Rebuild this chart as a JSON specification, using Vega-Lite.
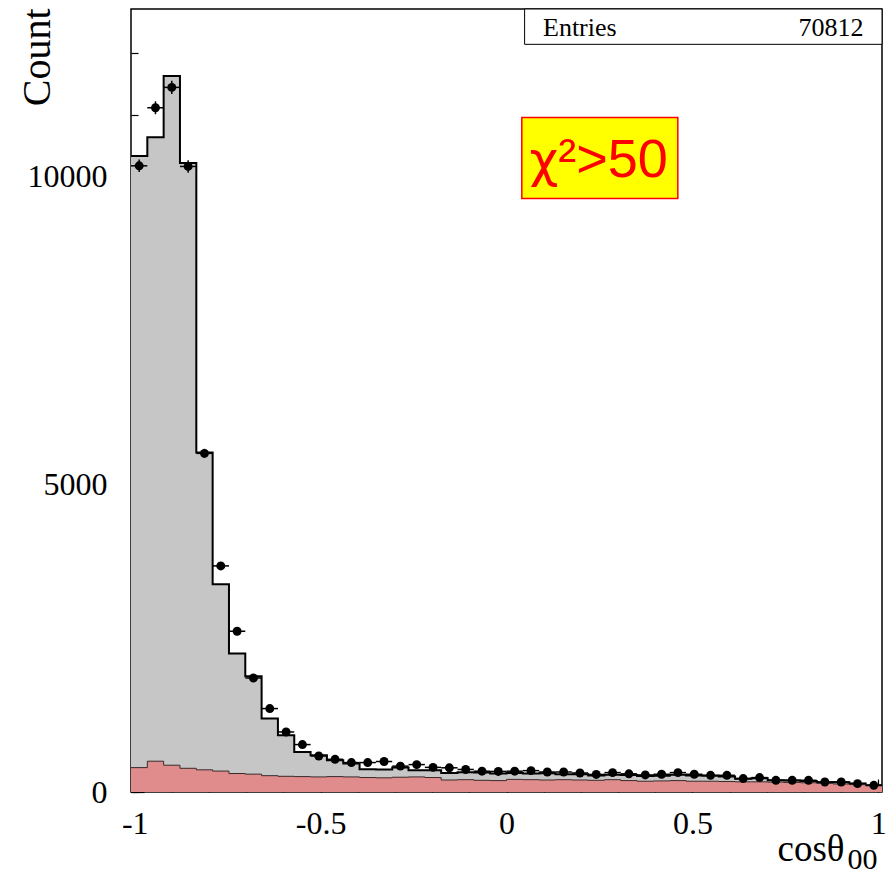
{
  "$schema": "https://vega.github.io/schema/vega-lite/v6.json",
  "width": 751,
  "height": 783,
  "autosize": {"type": "none"},
  "padding": {"left": 131, "top": 9, "right": 9, "bottom": 83},
  "background": "white",
  "config": {
    "view": {"stroke": "black", "strokeWidth": 1.5},
    "axis": {
      "grid": false,
      "domain": false,
      "zindex": 1,
      "labelFont": "Liberation Serif",
      "titleFont": "Liberation Serif",
      "labelColor": "black",
      "titleColor": "black",
      "tickColor": "black",
      "tickWidth": 1.2,
      "titleFontWeight": "normal",
      "labelFlush": false,
      "labelOverlap": false
    }
  },
  "data": {
    "values": [
      {"lo": -1.0100, "hi": -0.9661, "c": -0.9880, "n": 10170, "err": 101, "mc": 10330, "bkg": 396},
      {"lo": -0.9661, "hi": -0.9222, "c": -0.9442, "n": 11113, "err": 105, "mc": 10635, "bkg": 500},
      {"lo": -0.9222, "hi": -0.8783, "c": -0.9003, "n": 11444, "err": 107, "mc": 11630, "bkg": 435},
      {"lo": -0.8783, "hi": -0.8343, "c": -0.8563, "n": 10160, "err": 101, "mc": 10215, "bkg": 385},
      {"lo": -0.8343, "hi": -0.7904, "c": -0.8124, "n": 5500, "err": 74, "mc": 5515, "bkg": 360},
      {"lo": -0.7904, "hi": -0.7465, "c": -0.7685, "n": 3672, "err": 61, "mc": 3375, "bkg": 340},
      {"lo": -0.7465, "hi": -0.7026, "c": -0.7246, "n": 2611, "err": 51, "mc": 2249, "bkg": 300},
      {"lo": -0.7026, "hi": -0.6587, "c": -0.6807, "n": 1852, "err": 43, "mc": 1880, "bkg": 290},
      {"lo": -0.6587, "hi": -0.6148, "c": -0.6367, "n": 1355, "err": 37, "mc": 1193, "bkg": 265},
      {"lo": -0.6148, "hi": -0.5709, "c": -0.5928, "n": 975, "err": 31, "mc": 921, "bkg": 255},
      {"lo": -0.5709, "hi": -0.5270, "c": -0.5489, "n": 770, "err": 28, "mc": 650, "bkg": 250},
      {"lo": -0.5270, "hi": -0.4830, "c": -0.5050, "n": 585, "err": 24, "mc": 596, "bkg": 245},
      {"lo": -0.4830, "hi": -0.4391, "c": -0.4611, "n": 531, "err": 23, "mc": 515, "bkg": 250},
      {"lo": -0.4391, "hi": -0.3952, "c": -0.4172, "n": 478, "err": 22, "mc": 461, "bkg": 245},
      {"lo": -0.3952, "hi": -0.3513, "c": -0.3733, "n": 478, "err": 22, "mc": 370, "bkg": 235},
      {"lo": -0.3513, "hi": -0.3074, "c": -0.3293, "n": 495, "err": 22, "mc": 364, "bkg": 230},
      {"lo": -0.3074, "hi": -0.2635, "c": -0.2854, "n": 420, "err": 20, "mc": 396, "bkg": 240},
      {"lo": -0.2635, "hi": -0.2196, "c": -0.2415, "n": 445, "err": 21, "mc": 353, "bkg": 245},
      {"lo": -0.2196, "hi": -0.1757, "c": -0.1976, "n": 400, "err": 20, "mc": 353, "bkg": 235},
      {"lo": -0.1757, "hi": -0.1317, "c": -0.1537, "n": 393, "err": 20, "mc": 309, "bkg": 195},
      {"lo": -0.1317, "hi": -0.0878, "c": -0.1098, "n": 366, "err": 19, "mc": 320, "bkg": 200},
      {"lo": -0.0878, "hi": -0.0439, "c": -0.0659, "n": 338, "err": 18, "mc": 315, "bkg": 190},
      {"lo": -0.0439, "hi": 0.0000, "c": -0.0220, "n": 334, "err": 18, "mc": 300, "bkg": 185},
      {"lo": 0.0000, "hi": 0.0439, "c": 0.0220, "n": 338, "err": 18, "mc": 310, "bkg": 205},
      {"lo": 0.0439, "hi": 0.0878, "c": 0.0659, "n": 347, "err": 19, "mc": 300, "bkg": 200},
      {"lo": 0.0878, "hi": 0.1317, "c": 0.1098, "n": 325, "err": 18, "mc": 305, "bkg": 195},
      {"lo": 0.1317, "hi": 0.1757, "c": 0.1537, "n": 325, "err": 18, "mc": 290, "bkg": 200},
      {"lo": 0.1757, "hi": 0.2196, "c": 0.1976, "n": 309, "err": 18, "mc": 290, "bkg": 195},
      {"lo": 0.2196, "hi": 0.2635, "c": 0.2415, "n": 285, "err": 17, "mc": 270, "bkg": 190},
      {"lo": 0.2635, "hi": 0.3074, "c": 0.2854, "n": 315, "err": 18, "mc": 280, "bkg": 200},
      {"lo": 0.3074, "hi": 0.3513, "c": 0.3293, "n": 295, "err": 17, "mc": 275, "bkg": 185},
      {"lo": 0.3513, "hi": 0.3952, "c": 0.3733, "n": 277, "err": 17, "mc": 260, "bkg": 175},
      {"lo": 0.3952, "hi": 0.4391, "c": 0.4172, "n": 288, "err": 17, "mc": 265, "bkg": 180},
      {"lo": 0.4391, "hi": 0.4830, "c": 0.4611, "n": 315, "err": 18, "mc": 280, "bkg": 185},
      {"lo": 0.4830, "hi": 0.5270, "c": 0.5050, "n": 288, "err": 17, "mc": 270, "bkg": 175},
      {"lo": 0.5270, "hi": 0.5709, "c": 0.5489, "n": 271, "err": 16, "mc": 265, "bkg": 175},
      {"lo": 0.5709, "hi": 0.6148, "c": 0.5928, "n": 271, "err": 16, "mc": 250, "bkg": 170},
      {"lo": 0.6148, "hi": 0.6587, "c": 0.6367, "n": 218, "err": 15, "mc": 215, "bkg": 165},
      {"lo": 0.6587, "hi": 0.7026, "c": 0.6807, "n": 234, "err": 15, "mc": 225, "bkg": 165},
      {"lo": 0.7026, "hi": 0.7465, "c": 0.7246, "n": 190, "err": 14, "mc": 190, "bkg": 160},
      {"lo": 0.7465, "hi": 0.7904, "c": 0.7685, "n": 190, "err": 14, "mc": 185, "bkg": 155},
      {"lo": 0.7904, "hi": 0.8343, "c": 0.8124, "n": 190, "err": 14, "mc": 180, "bkg": 150},
      {"lo": 0.8343, "hi": 0.8783, "c": 0.8563, "n": 162, "err": 13, "mc": 160, "bkg": 140},
      {"lo": 0.8783, "hi": 0.9222, "c": 0.9003, "n": 162, "err": 13, "mc": 160, "bkg": 130},
      {"lo": 0.9222, "hi": 0.9661, "c": 0.9442, "n": 136, "err": 12, "mc": 140, "bkg": 120},
      {"lo": 0.9661, "hi": 1.0100, "c": 0.9880, "n": 109, "err": 10, "mc": 110, "bkg": 100},
      {"lo": 1.0100, "mc": 110, "bkg": 100}
    ]
  },
  "resolve": {"axis": {"x": "independent", "y": "independent"}},
  "layer": [
    {
      "mark": {"type": "area", "interpolate": "step-after", "fill": "#c6c6c6"},
      "encoding": {
        "x": {
          "field": "lo", "type": "quantitative",
          "scale": {"domain": [-1.01, 1.01], "nice": false, "zero": false},
          "axis": {
            "orient": "bottom",
            "values": [-1, -0.9, -0.8, -0.7, -0.6, -0.5, -0.4, -0.3, -0.2, -0.1, 0, 0.1, 0.2, 0.3, 0.4, 0.5, 0.6, 0.7, 0.8, 0.9, 1],
            "tickSize": -7, "labels": false,
            "title": "cosθ", "titleFontSize": 37,
            "titleX": 713, "titleY": 68, "titleAlign": "right", "titleBaseline": "alphabetic"
          }
        },
        "y": {
          "field": "mc", "type": "quantitative",
          "scale": {"domain": [0, 12717], "nice": false},
          "axis": {
            "orient": "left",
            "values": [0, 1000, 2000, 3000, 4000, 5000, 6000, 7000, 8000, 9000, 10000, 11000, 12000],
            "tickSize": -7, "labels": false,
            "title": "Count", "titleFontSize": 40, "titleAngle": -90,
            "titleX": -82, "titleY": -1, "titleAlign": "right", "titleBaseline": "alphabetic"
          }
        }
      }
    },
    {
      "mark": {"type": "line", "interpolate": "step-after", "stroke": "black", "strokeWidth": 2},
      "encoding": {
        "x": {"field": "lo", "type": "quantitative", "axis": null},
        "y": {"field": "mc", "type": "quantitative", "axis": null}
      }
    },
    {
      "mark": {"type": "area", "interpolate": "step-after", "fill": "#e08c8c"},
      "encoding": {
        "x": {
          "field": "lo", "type": "quantitative",
          "axis": {
            "orient": "bottom", "values": [-1, -0.5, 0, 0.5, 1],
            "tickSize": -13, "labels": false,
            "title": "00", "titleFontSize": 30,
            "titleX": 716, "titleY": 76, "titleAlign": "left", "titleBaseline": "alphabetic"
          }
        },
        "y": {
          "field": "bkg", "type": "quantitative",
          "axis": {"orient": "left", "values": [0, 5000, 10000], "tickSize": -13, "labels": false, "title": null}
        }
      }
    },
    {
      "mark": {"type": "line", "interpolate": "step-after", "stroke": "#3a2a2a", "strokeWidth": 1},
      "encoding": {
        "x": {"field": "lo", "type": "quantitative", "axis": null},
        "y": {"field": "bkg", "type": "quantitative", "axis": null}
      }
    },
    {
      "transform": [{"filter": "isValid(datum.n)"}],
      "mark": {"type": "rule", "stroke": "black", "strokeWidth": 1.5},
      "encoding": {
        "x": {"field": "lo", "type": "quantitative", "axis": null},
        "x2": {"field": "hi"},
        "y": {"field": "n", "type": "quantitative", "axis": null}
      }
    },
    {
      "transform": [{"filter": "isValid(datum.n)"}],
      "mark": {"type": "errorbar", "rule": {"stroke": "black", "strokeWidth": 1.5}},
      "encoding": {
        "x": {"field": "c", "type": "quantitative", "axis": null},
        "y": {"field": "n", "type": "quantitative", "axis": null},
        "yError": {"field": "err"}
      }
    },
    {
      "transform": [{"filter": "isValid(datum.n)"}],
      "mark": {"type": "point", "filled": true, "shape": "circle", "color": "black", "size": 80, "opacity": 1},
      "encoding": {
        "x": {
          "field": "c", "type": "quantitative",
          "axis": {
            "orient": "bottom", "values": [-1, -0.5, 0, 0.5, 1], "ticks": false,
            "format": "~g",
            "labelFontSize": 32, "labelPadding": 16,
            "labelExpr": "replace(datum.label, '−', '-')",
            "title": null
          }
        },
        "y": {
          "field": "n", "type": "quantitative",
          "axis": {
            "orient": "left", "values": [0, 5000, 10000], "ticks": false,
            "format": "d",
            "labelFontSize": 32, "labelPadding": 24, "title": null
          }
        }
      }
    },
    {
      "data": {"values": [{}]},
      "mark": {"type": "rect", "fill": "white", "stroke": "black", "strokeWidth": 1},
      "encoding": {
        "x": {"datum": 0.0487, "type": "quantitative", "axis": null},
        "x2": {"datum": 1.01},
        "y": {"datum": 12717, "type": "quantitative", "axis": null},
        "y2": {"datum": 12143}
      }
    },
    {
      "data": {"values": [{}]},
      "mark": {"type": "text", "text": "Entries", "font": "Liberation Serif", "fontSize": 26, "align": "left", "baseline": "alphabetic", "color": "black"},
      "encoding": {
        "x": {"datum": 0.0982, "type": "quantitative", "axis": null},
        "y": {"datum": 12278, "type": "quantitative", "axis": null}
      }
    },
    {
      "data": {"values": [{}]},
      "mark": {"type": "text", "text": "70812", "font": "Liberation Serif", "fontSize": 26, "align": "right", "baseline": "alphabetic", "color": "black"},
      "encoding": {
        "x": {"datum": 0.9605, "type": "quantitative", "axis": null},
        "y": {"datum": 12278, "type": "quantitative", "axis": null}
      }
    },
    {
      "data": {"values": [{}]},
      "mark": {"type": "rect", "fill": "#ffff00", "stroke": "#ff0000", "strokeWidth": 1.5},
      "encoding": {
        "x": {"datum": 0.0412, "type": "quantitative", "axis": null},
        "x2": {"datum": 0.4608},
        "y": {"datum": 10955, "type": "quantitative", "axis": null},
        "y2": {"datum": 9639}
      }
    },
    {
      "data": {"values": [{}]},
      "mark": {"type": "text", "text": "χ", "font": "DejaVu Sans", "fontSize": 50, "align": "right", "baseline": "alphabetic", "color": "#ff0000"},
      "encoding": {
        "x": {"datum": 0.1393, "type": "quantitative", "axis": null},
        "y": {"datum": 9993, "type": "quantitative", "axis": null}
      }
    },
    {
      "data": {"values": [{}]},
      "mark": {"type": "text", "text": "²>50", "font": "Liberation Sans", "fontSize": 54, "align": "left", "baseline": "alphabetic", "color": "#ff0000"},
      "encoding": {
        "x": {"datum": 0.1393, "type": "quantitative", "axis": null},
        "y": {"datum": 9993, "type": "quantitative", "axis": null}
      }
    }
  ]
}
